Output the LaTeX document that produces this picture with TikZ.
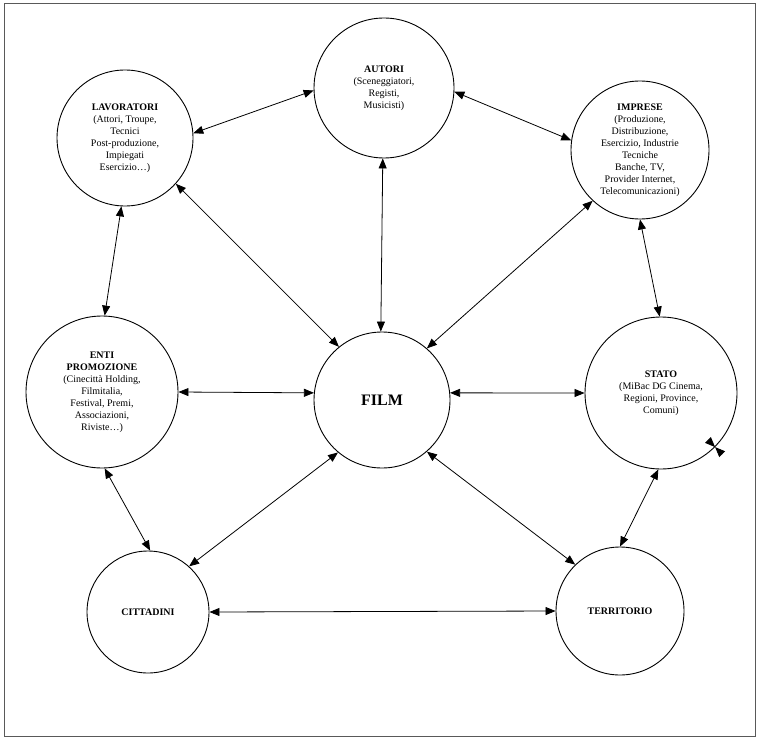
\documentclass[tikz,border=0pt]{standalone}
\usepackage{fontspec}
\setmainfont{Liberation Serif}
\usepackage{tikz}
\usetikzlibrary{arrows.meta,positioning,calc}

\begin{document}
\begin{tikzpicture}[
    x=1pt, y=-1pt,
    actor/.style={circle, draw, line width=0.9pt, inner sep=0pt, align=center, font=\fontsize{10}{12}\selectfont},
    link/.style={{Triangle[length=10pt,width=8pt]}-{Triangle[length=10pt,width=8pt]}, line width=0.8pt},
    tip/.style={-{Triangle[length=10pt,width=8pt]}, line width=0.8pt}
]
    \useasboundingbox (0,0) rectangle (759,738);
    \draw[gray!70!black, line width=1pt] (4,4) rectangle (755,736);

    \node[actor, minimum size=140pt] (autori) at (384,88) {\textbf{AUTORI}\\(Sceneggiatori,\\Registi,\\Musicisti)};
    \node[actor, minimum size=136pt] (lav) at (125,138) {\textbf{LAVORATORI}\\(Attori, Troupe,\\Tecnici\\Post-produzione,\\Impiegati\\Esercizio…)};
    \node[actor, minimum size=138pt] (imprese) at (640,150) {\textbf{IMPRESE}\\(Produzione,\\Distribuzione,\\Esercizio, Industrie\\Tecniche\\Banche, TV,\\Provider Internet,\\Telecomunicazioni)};
    \node[actor, minimum size=152pt] (enti) at (102,392) {\textbf{ENTI}\\\textbf{PROMOZIONE}\\(Cinecittà Holding,\\Filmitalia,\\Festival, Premi,\\Associazioni,\\Riviste…)};
    \node[actor, minimum size=136pt, font=\fontsize{16}{19}\selectfont\bfseries] (film) at (382,400) {FILM};
    \node[actor, minimum size=152pt] (stato) at (661,393) {\textbf{STATO}\\(MiBac DG Cinema,\\Regioni, Province,\\Comuni)};
    \node[actor, minimum size=122pt] (citt) at (148,612) {\textbf{CITTADINI}};
    \node[actor, minimum size=128pt] (terr) at (620,611) {\textbf{TERRITORIO}};

    \draw[link] (lav.4) -- (autori.182);
    \draw[link] (autori.-3) -- (imprese.172);
    \draw[link] (autori.-91) -- (film.91);
    \draw[link] (lav.-42) -- (film.129);
    \draw[link] (imprese.-133) -- (film.49);
    \draw[link] (lav.-93) -- (enti.88);
    \draw[link] (imprese.-90) -- (stato.91);
    \draw[link] (enti.0) -- (film.174);
    \draw[link] (film.6) -- (stato.180);
    \draw[link] (enti.-88) -- (citt.88);
    \draw[link] (film.-130) -- (citt.48);
    \draw[link] (film.-49) -- (terr.134);
    \draw[link] (stato.-92) -- (terr.90);
    \draw[link] (citt.0) -- (terr.180);

    % two stray heads on STATO
    \coordinate (stubA) at ($(stato.-45)+(135:10pt)$);
    \coordinate (stubB) at ($(stato.-45)+(-45:10pt)$);
    \draw[tip] (stubA) -- (stato.-45);
    \draw[tip] (stubB) -- (stato.-45);
\end{tikzpicture}
\end{document}
